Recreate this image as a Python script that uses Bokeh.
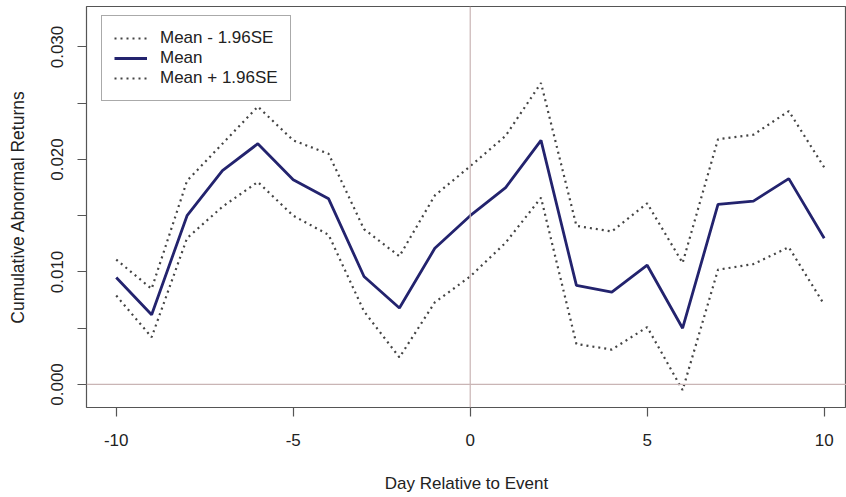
from bokeh.plotting import figure
from bokeh.models import FixedTicker, Range1d, Span, Legend, LegendItem, ColumnDataSource
from bokeh.embed import file_html
from bokeh.resources import INLINE

days = list(range(-10, 11))
mean = [0.0095, 0.0062, 0.0150, 0.0190, 0.0214, 0.0182, 0.0165, 0.0096, 0.0068, 0.0121, 0.0150,
        0.0175, 0.0217, 0.0088, 0.0082, 0.0106, 0.0050, 0.0160, 0.0163, 0.0183, 0.0130]
upper = [0.0111, 0.0085, 0.0181, 0.0214, 0.0247, 0.0217, 0.0205, 0.0138, 0.0114, 0.0168, 0.0194,
         0.0221, 0.0268, 0.0141, 0.0136, 0.0161, 0.0108, 0.0218, 0.0222, 0.0243, 0.0193]
lower = [0.0079, 0.0042, 0.0130, 0.0158, 0.0180, 0.0150, 0.0133, 0.0065, 0.0024, 0.0073, 0.0096,
         0.0126, 0.0166, 0.0036, 0.0031, 0.0051, -0.0005, 0.0102, 0.0107, 0.0122, 0.0071]

x_ticks = [-10, -5, 0, 5, 10]
x_labels = {-10: "-10", -5: "-5", 0: "0", 5: "5", 10: "10"}
y_ticks = [0.0, 0.005, 0.010, 0.015, 0.020, 0.025, 0.030]
y_labels = {0.0: "0.000", 0.005: "", 0.010: "0.010", 0.015: "", 0.020: "0.020", 0.025: "", 0.030: "0.030"}

FONT = "Liberation Sans"
TXT = "#222222"

src = ColumnDataSource(dict(day=days, mean=mean, upper=upper, lower=lower))

p = figure(width=846, height=497, output_backend="svg", toolbar_location=None,
           x_range=Range1d(-10.84, 10.63), y_range=Range1d(-0.00205, 0.0336),
           min_border_left=86, min_border_right=0, min_border_top=6, min_border_bottom=90)
p.background_fill_color = "white"
p.border_fill_color = "white"
p.outline_line_color = "#555555"
p.outline_line_width = 1.2
p.xgrid.visible = False
p.ygrid.visible = False

p.add_layout(Span(location=0, dimension="height", line_color="#c9b5b5", line_width=1.2))
p.add_layout(Span(location=0, dimension="width", line_color="#c9b5b5", line_width=1.2))

r_lo = p.line("day", "lower", source=src, line_color="#444444", line_width=2.2, line_dash="2 4")
r_m = p.line("day", "mean", source=src, line_color="#23236e", line_width=2.8)
r_up = p.line("day", "upper", source=src, line_color="#444444", line_width=2.2, line_dash="2 4")

for ax in (p.xaxis[0], p.yaxis[0]):
    ax.axis_line_color = None
    ax.major_tick_line_color = "#555555"
    ax.major_tick_line_width = 1.2
    ax.major_tick_out = 9
    ax.major_tick_in = 0
    ax.minor_tick_line_color = None
    ax.major_label_text_font = FONT
    ax.major_label_text_color = TXT
    ax.axis_label_text_font = FONT
    ax.axis_label_text_color = TXT
    ax.axis_label_text_font_style = "normal"

p.xaxis.ticker = FixedTicker(ticks=x_ticks)
p.xaxis.major_label_overrides = x_labels
p.xaxis.major_label_text_font_size = "17px"
p.xaxis.axis_label_text_font_size = "17px"
p.xaxis.major_label_standoff = 17
p.xaxis.axis_label = "Day Relative to Event"
p.xaxis.axis_label_standoff = 25

p.yaxis.ticker = FixedTicker(ticks=y_ticks)
p.yaxis.major_label_overrides = y_labels
p.yaxis.major_label_orientation = "vertical"
p.yaxis.major_label_text_font_size = "17px"
p.yaxis.axis_label_text_font_size = "17.5px"
p.yaxis.major_label_standoff = 14
p.yaxis.axis_label = "Cumulative Abnormal Returns"
p.yaxis.axis_label_standoff = 21

legend = Legend(items=[LegendItem(label="Mean - 1.96SE", renderers=[r_lo]),
                       LegendItem(label="Mean", renderers=[r_m]),
                       LegendItem(label="Mean + 1.96SE", renderers=[r_up])],
                location=(15, 306))
legend.label_text_font = FONT
legend.label_text_font_size = "17px"
legend.label_text_color = TXT
legend.glyph_width = 33
legend.glyph_height = 20
legend.label_height = 20
legend.label_standoff = 13
legend.spacing = 0
legend.padding = 12
legend.margin = 0
legend.border_line_color = "#555555"
legend.border_line_width = 1.2
legend.background_fill_alpha = 1.0
p.add_layout(legend)

open("out.html", "w").write(file_html(p, INLINE))
